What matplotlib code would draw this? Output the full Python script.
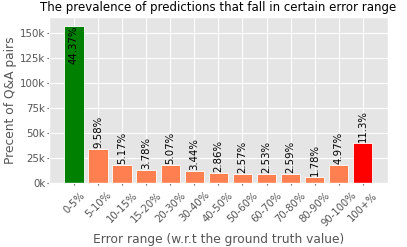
import numpy as np
import matplotlib
matplotlib.use("Agg")
import matplotlib.pyplot as plt
from matplotlib.ticker import FuncFormatter

plt.style.use('ggplot')

ranges = ['0-5%', '5-10%', '10-15%', '15-20%', '20-30%', '30-40%', '40-50%',
          '50-60%', '60-70%', '70-80%', '80-90%', '90-100%', '100+%']
pcts = [44.37, 9.58, 5.17, 3.78, 5.07, 3.44, 2.86, 2.57, 2.53, 2.59, 1.78, 4.97, 11.3]
total = 355000
counts = [p / 100 * total for p in pcts]
colors = ['green'] + ['coral'] * 11 + ['red']

fig, ax = plt.subplots(figsize=(4.07, 2.47), dpi=100)
x = np.arange(len(ranges))
ax.bar(x, counts, color=colors, width=0.8, edgecolor='white', linewidth=0.6)

for i, (c, p) in enumerate(zip(counts, pcts)):
    lab = f'{p}%'
    if i == 0:
        ax.text(i, c, lab, rotation=90, ha='center', va='top', fontsize=7.3, color='black')
    else:
        ax.text(i, c + 1000, lab, rotation=90, ha='center', va='bottom', fontsize=7.3, color='black')

ax.set_ylim(0, 166000)
ax.set_yticks([0, 25000, 50000, 75000, 100000, 125000, 150000])
ax.yaxis.set_major_formatter(FuncFormatter(lambda v, pos: f'{int(v/1000)}k'))
ax.set_xticks(x)
ax.set_xticklabels(ranges, rotation=45, fontsize=7.2)
ax.tick_params(axis='y', labelsize=7.4, pad=1, length=1.5)
ax.tick_params(axis='x', pad=3.5, length=1.5)
ax.set_xlabel('Error range (w.r.t the ground truth value)', fontsize=8.8, color='#555555', labelpad=3)
ax.set_ylabel('Precent of Q&A pairs', fontsize=8.8, color='#555555', labelpad=2)
ax.set_title('The prevalence of predictions that fall in certain error range', fontsize=8.5, color='black', pad=4)

fig.subplots_adjust(left=0.12, right=0.953, top=0.931, bottom=0.259)
fig.savefig('out.png', dpi=100)
